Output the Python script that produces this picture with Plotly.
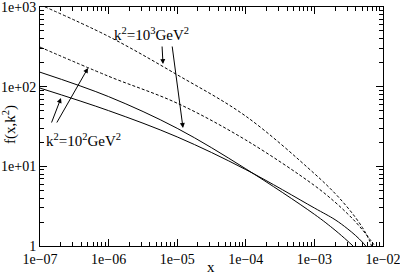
import plotly.graph_objects as go

# Curve data (x, f)
x_A = [1e-7, 1e-6, 1e-5, 1e-4, 1e-3, 2e-3, 3e-3, 4e-3, 5e-3, 5.8e-3, 6.4e-3, 6.8e-3]
f_A = [1070, 427, 141, 42.6, 8.1, 4.57, 3.09, 2.26, 1.71, 1.37, 1.15, 1.0]

x_B = [1e-7, 1e-6, 1e-5, 1e-4, 1e-3, 2e-3, 3e-3, 4e-3, 5e-3, 5.8e-3, 6.5e-3, 7e-3, 7.6e-3]
f_B = [314, 135, 62, 21.4, 5.75, 3.55, 2.57, 2.0, 1.60, 1.37, 1.20, 1.11, 1.0]

x_C = [1e-7, 1e-6, 1e-5, 1e-4, 1e-3, 2e-3, 3e-3, 3.66e-3]
f_C = [152, 75, 30, 9.3, 2.5, 1.58, 1.17, 1.0]

x_D = [1e-7, 1e-6, 1e-5, 1e-4, 1e-3, 2e-3, 3e-3, 4e-3, 5e-3, 5.6e-3]
f_D = [96, 50, 23.4, 9.1, 3.0, 2.14, 1.66, 1.35, 1.12, 1.0]

x_tickvals = [1e-7, 1e-6, 1e-5, 1e-4, 1e-3, 1e-2]
x_ticktext = ["1e\u221207", "1e\u221206", "1e\u221205", "1e\u221204", "1e\u221203", "1e\u221202"]
y_tickvals = [1, 10, 100, 1000]
y_ticktext = ["1", "1e+01", "1e+02", "1e+03"]

x_minor = [m * 10.0 ** e for e in range(-7, -2) for m in range(2, 10)]
y_minor = [m * 10.0 ** e for e in range(0, 3) for m in range(2, 10)]

FONT = "Liberation Serif"

fig = go.Figure()
fig.add_trace(go.Scatter(x=x_A, y=f_A, mode="lines", line=dict(color="black", width=1, dash="3px,2px", shape="spline", smoothing=1.0)))
fig.add_trace(go.Scatter(x=x_B, y=f_B, mode="lines", line=dict(color="black", width=1, dash="3px,2px", shape="spline", smoothing=1.0)))
fig.add_trace(go.Scatter(x=x_C, y=f_C, mode="lines", line=dict(color="black", width=1, shape="spline", smoothing=1.0)))
fig.add_trace(go.Scatter(x=x_D, y=f_D, mode="lines", line=dict(color="black", width=1, shape="spline", smoothing=1.0)))

axis_common = dict(
    type="log", showgrid=False, zeroline=False, showline=True, linecolor="black", linewidth=1,
    mirror="allticks", ticks="inside", ticklen=7, tickcolor="black", tickwidth=1,
    tickfont=dict(family=FONT, size=14, color="black"), automargin=False,
    ticklabeloverflow="allow",
)
fig.update_xaxes(
    **axis_common, range=[-7, -2], tickvals=x_tickvals, ticktext=x_ticktext,
    minor=dict(tickvals=x_minor, ticks="inside", ticklen=4, tickcolor="black", showgrid=False),
)
fig.update_yaxes(
    **axis_common, range=[0, 3], tickvals=y_tickvals, ticktext=y_ticktext,
    minor=dict(tickvals=y_minor, ticks="inside", ticklen=4, tickcolor="black", showgrid=False),
)

L, R, T, B = 40, 17, 7, 32
W, H = 400, 278
pw, ph = W - L - R, H - T - B

def px(xp, yp):
    return (xp - L) / pw, (T + ph - yp) / ph

ann = []
def label(text, xp, yp, size=15, angle=0):
    x, y = px(xp, yp)
    ann.append(dict(text=text, x=x, y=y, xref="paper", yref="paper", showarrow=False, textangle=angle,
                    font=dict(family=FONT, size=size, color="black"), xanchor="center", yanchor="middle"))

def arrow(tx, ty, hx, hy):
    x, y = px(hx, hy)
    ann.append(dict(text="", x=x, y=y, xref="paper", yref="paper", showarrow=True,
                    ax=tx - hx, ay=ty - hy, arrowhead=2, arrowsize=1, arrowwidth=1, arrowcolor="black"))

# axis titles
label("x", 211, 267)
label("f(x,k<sup>2</sup>)", 10, 125, angle=-90)

label("k<sup>2</sup>=10<sup>3</sup>GeV<sup>2</sup>", 151, 34)
arrow(162, 45, 163, 64)
arrow(172, 45, 183, 128)
label("k<sup>2</sup>=10<sup>2</sup>GeV<sup>2</sup>", 83, 140)
arrow(51, 124, 61, 98)
arrow(56, 124, 88, 68)
fig.update_layout(annotations=ann)

fig.update_layout(
    width=W, height=H, margin=dict(l=L, r=R, t=T, b=B), showlegend=False,
    plot_bgcolor="white", paper_bgcolor="white",
)
fig.write_html("out.html", config={"displayModeBar": False},
               post_script="document.body.style.margin='0';document.body.style.overflow='hidden';")
